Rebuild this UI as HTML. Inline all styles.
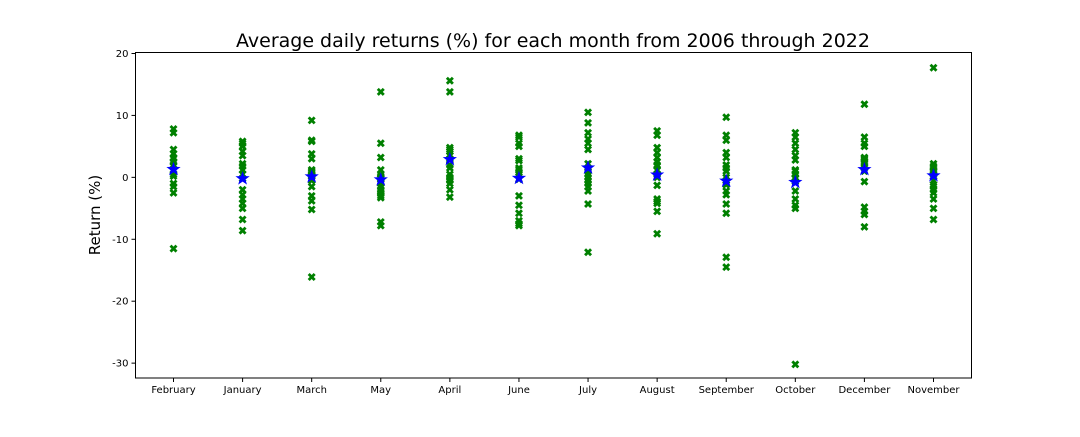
<!DOCTYPE html>
<html><head><meta charset="utf-8"><style>
body{margin:0;background:#fff;font-family:"Liberation Sans","DejaVu Sans",sans-serif}
svg text{font-family:"DejaVu Sans","Liberation Sans",sans-serif}
</style></head><body>
<svg id="chart" width="1080" height="432" viewBox="0 0 1080 432" xmlns="http://www.w3.org/2000/svg">
<rect width="1080" height="432" fill="#fff"/>
<text x="553" y="47" font-size="19" text-anchor="middle" fill="#000">Average daily returns (%) for each month from 2006 through 2022</text>
<text transform="translate(100,215) rotate(-90)" font-size="15" text-anchor="middle" fill="#000">Return (%)</text>
<g id="plot"></g>
<rect x="135.5" y="52.5" width="836" height="325.5" fill="none" stroke="#000" stroke-width="1"/>
</svg>
<script>
const months = ["February","January","March","May","April","June","July","August","September","October","December","November"];
const feb = [7.8,7.2,4.5,3.8,3.2,2.5,1.8,1.2,0.5,0.2,-1,-1.5,-2.5,-11.5,2.0,1.0,3.0];
const jan = [5.8,5.5,5.0,4.2,2.2,1.2,0.5,-0.2,-2,-2.8,-3.5,-4.2,-5,-6.8,-8.6,1.8,3.5];
const mar = [9.2,6,5.8,3.8,3.0,1.2,0.8,0.2,-0.5,-1.5,-3,-3.8,-5.2,-16.1,0.5,1.0,0.3];
const may = [13.8,5.5,3.2,1.2,0.2,-0.2,-1.5,-2,-2.5,-3,-3.3,-7.2,-7.8,0,-1,-2.2,0.5];
const apr = [15.6,13.8,4.8,4.2,3.5,2.8,1.5,0,-0.5,-0.3,-1,-2,-3.2,0.5,3,2,4.5];
const jun = [6.8,6.5,5.5,5,2.7,1.2,0.5,-0.3,-3,-4.5,-5.8,-7,-7.5,-7.8,3,0.8,1.5];
const jul = [10.5,8.8,7.2,6.2,5.5,4.5,2.2,1.5,0.5,-0.5,-1,-1.5,-2.2,-4.3,-12.1,1,0];
const aug = [7.5,6.8,4.8,4,3.2,2.5,1.8,1.2,0.5,0,-1.3,-3.5,-4.2,-5.5,-9.1,2,-3.9];
const sep = [9.7,6.8,6,4,3.2,2,1.5,-0.5,-1.2,-2.2,-2.8,-4.3,-5.8,-12.9,-14.5,0,1];
const oct = [7.2,6.5,5.5,4.5,3.5,2.8,1,0.5,-0.2,-2.2,-3.5,-4.5,-5,-30.2,0,1.2,-0.7];
const dec = [11.8,6.5,5.5,5,3.2,2.8,2.2,1.5,-0.7,-4.8,-5.5,-6,-8,2.5,3,1,1.8];
const nov = [17.7,2.2,1.8,0.5,0.2,-0.5,-1.2,-1.5,-2,-2.5,-3.5,-5,-6.8,1,1.2,1.5,1.5];
const yTicks = [20,10,0,-10,-20,-30];

const series = [feb,jan,mar,may,apr,jun,jul,aug,sep,oct,dec,nov];
const NS="http://www.w3.org/2000/svg";
const plot=document.getElementById('plot');
const X0=135.5,X1=971.5,Y0=52.5,Y1=378;
const xmin=-0.55,xmax=11.55,ymin=-32.4,ymax=20.16;
const xs=i=>X0+(i-xmin)/(xmax-xmin)*(X1-X0);
const ys=v=>Y1-(v-ymin)/(ymax-ymin)*(Y1-Y0);
function mk(t,a){const e=document.createElementNS(NS,t);for(const k in a)e.setAttribute(k,a[k]);plot.appendChild(e);return e;}
yTicks.forEach(v=>{
  const y=ys(v);
  const l=mk('line',{x1:X0-4,x2:X0,y1:y,y2:y,stroke:'#000'});
  
  
  const t=mk('text',{x:X0-7,y:y+3.5,'font-size':10,'text-anchor':'end',fill:'#000'});
  t.textContent=v;
  
  
});
const xPath="M-2,-4L0,-2L2,-4L4,-2L2,0L4,2L2,4L0,2L-2,4L-4,2L-2,0L-4,-2Z";
function star(cx,cy,R){let p=[];for(let k=0;k<10;k++){const r=k%2?R*0.4:R;const a=-Math.PI/2+k*Math.PI/5;p.push((cx+r*Math.cos(a)).toFixed(2)+','+(cy+r*Math.sin(a)).toFixed(2));}return p.join(' ');}
months.forEach((m,i)=>{
  const x=xs(i);
  const l=mk('line',{x1:x,x2:x,y1:Y1,y2:Y1+4,stroke:'#000'});
  
  
  const t=mk('text',{x:x,y:Y1+15,'font-size':10,'text-anchor':'middle',fill:'#000'});
  t.textContent=m;
  
  
  const vals=series[i];
  vals.forEach(v=>{
    const p=mk('path',{d:xPath,transform:`translate(${x},${ys(v)})`,fill:'green'});
    
    
  });
  const mean=vals.reduce((a,b)=>a+b,0)/vals.length;
  const s=mk('polygon',{points:star(x,ys(mean),7.5),fill:'blue'});
  
  
});
</script>
</body></html>
